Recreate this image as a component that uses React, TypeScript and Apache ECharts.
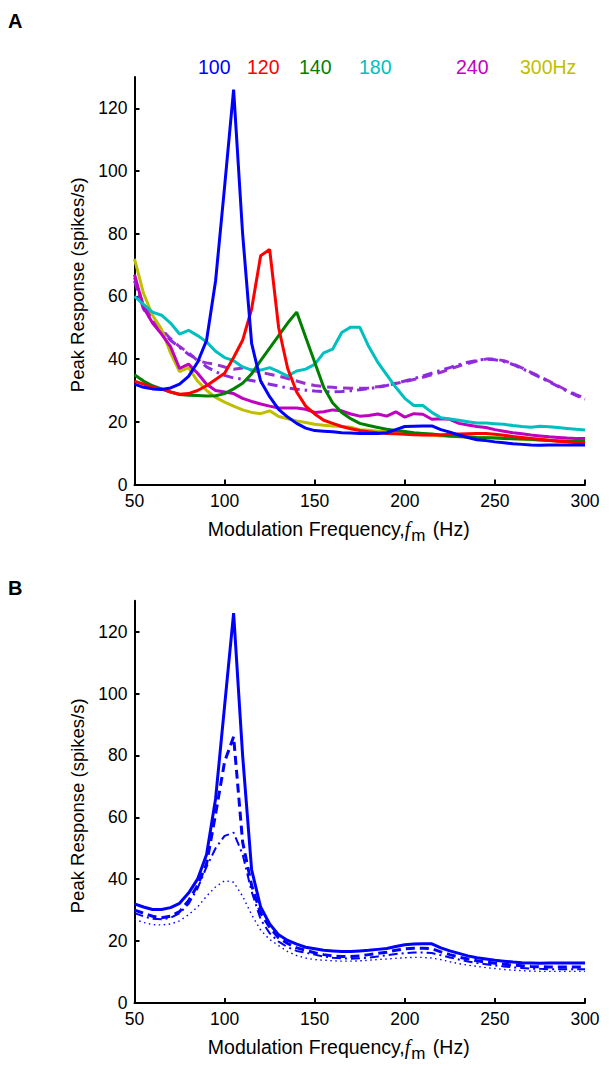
import React, { useEffect, useRef } from "react";
import * as echarts from "echarts";

const freqHz = [50, 55, 60, 65, 70, 75, 80, 85, 90, 95, 100, 105, 110, 115, 120, 125, 130, 135, 140, 145, 150, 155, 160, 165, 170, 175, 180, 185, 190, 195, 200, 205, 210, 215, 220, 225, 230, 235, 240, 245, 250, 255, 260, 265, 270, 275, 280, 285, 290, 295, 300];

// Panel A
const a100 = [32, 31, 30.5, 30.3, 30.8, 32, 34.5, 39, 46, 65, 95, 126, 80, 45, 33, 28, 24, 21.5, 19.5, 18, 17.2, 17, 16.8, 16.5, 16.4, 16.3, 16.3, 16.3, 16.5, 17.5, 18.5, 18.6, 18.7, 18.7, 17.5, 16.7, 15.8, 15, 14.3, 14, 13.6, 13.3, 13, 12.8, 12.6, 12.5, 12.6, 12.6, 12.6, 12.6, 12.6];
const a120 = [33, 32, 31, 30.5, 29.5, 28.8, 29, 30, 31.5, 33.5, 35.5, 40.5, 46, 56, 73, 75, 50, 37, 29.5, 25, 22.5, 20.5, 19.5, 18.5, 17.8, 17.2, 16.8, 16.5, 16.3, 16.2, 16, 15.9, 15.8, 15.8, 15.8, 16, 16.1, 16.2, 16.3, 16.3, 16, 15.7, 15.3, 15, 14.7, 14.4, 14.1, 13.8, 13.6, 13.4, 13.4];
const a140 = [35, 33, 31.5, 30.5, 29.5, 28.7, 28.5, 28.4, 28.2, 28.3, 29, 30.5, 32.3, 35.3, 39.5, 43.5, 47.5, 51.5, 55, 47, 39, 31, 26, 23, 21, 19.5, 18.8, 18.2, 17.6, 17.2, 16.9, 16.5, 16.3, 16.1, 15.8, 15.5, 15.3, 15.2, 15, 14.9, 14.8, 14.7, 14.6, 14.5, 14.4, 14.2, 14, 13.9, 13.8, 13.7, 13.7];
const a180 = [60, 57.5, 55, 54, 51.5, 48, 49.2, 47.5, 45.5, 42.5, 40.5, 39.5, 37.5, 36.5, 36.5, 37.3, 36, 34.6, 36.2, 36.8, 38.3, 42, 43.2, 48.5, 50.2, 50.2, 44, 39, 35, 31, 27.5, 25.2, 25.2, 23, 21.3, 20.9, 20.5, 20, 19.6, 19.6, 19.4, 19.2, 18.8, 18.5, 18.3, 18.6, 18.4, 18.2, 17.9, 17.6, 17.4];
const a240 = [67, 56.5, 51.5, 48, 44, 37, 38.4, 35.5, 32, 30, 29.5, 29, 27.5, 26.5, 25.7, 25, 24.4, 24.4, 24.4, 24, 23, 23.2, 23.8, 23.5, 22.5, 21.8, 22, 22.5, 21.8, 23.2, 21.5, 22.6, 22.4, 20.8, 21, 20.8, 19.5, 19, 18.5, 18.2, 17.5, 17, 16.5, 16.2, 15.8, 15.5, 15.2, 15, 14.8, 14.7, 14.7];
const a300 = [72, 61, 54, 49.5, 42, 36, 37.3, 33, 30, 27.8, 26.3, 25, 23.8, 23, 22.6, 23.5, 21.7, 21, 20.3, 19.8, 19.2, 18.9, 18.7, 18.5, 18.3, 17.5, 17.3, 17, 16.8, 16.6, 16.3, 16, 15.9, 15.8, 15.5, 15.3, 15.2, 15, 15, 15, 14.9, 14.8, 14.6, 14.5, 14.3, 14.2, 14.1, 14, 13.9, 13.8, 13.7];
const aDashed = [66, 57, 53.5, 49.5, 46.5, 44, 42, 39.5, 38.8, 38.3, 37.5, 36.8, 37.2, 36.5, 35.8, 35.2, 34.6, 33.8, 33, 32.2, 31.6, 31.2, 31, 30.8, 30.7, 30.7, 30.8, 31.2, 31.6, 32.2, 32.8, 33.5, 34.2, 35, 35.8, 36.8, 37.8, 38.6, 39.4, 40, 40, 39.5, 38.5, 37.2, 35.8, 34.4, 33, 31.5, 30, 28.7, 27.5];
const aDashDot = [65, 56, 52, 49, 46, 43.8, 41.5, 40, 37.5, 36, 34.8, 34, 33.6, 33.2, 32.6, 32, 31.4, 30.8, 30.4, 30.1, 29.8, 29.6, 29.6, 29.7, 29.9, 30.2, 30.6, 31, 31.6, 32.3, 33, 33.8, 34.6, 35.5, 36.4, 37.3, 38.2, 39, 39.6, 40, 39.8, 39.2, 38.3, 37, 35.6, 34.2, 32.8, 31.3, 29.8, 28.4, 27.2];

// Panel B
const bSolid = [32, 31, 30.2, 30.2, 30.8, 32.2, 35.5, 40, 48, 66, 96, 126, 80, 43, 31, 25.5, 22, 20.2, 19, 18, 17.5, 17, 16.8, 16.6, 16.6, 16.8, 17, 17.3, 17.6, 18.2, 18.8, 19, 19.1, 19.1, 17.8, 16.8, 16, 15.2, 14.6, 14.2, 13.8, 13.5, 13.2, 13, 12.9, 12.8, 12.9, 12.9, 12.9, 12.9, 12.9];
const bDashed = [30, 29, 28, 27.5, 28, 29.5, 33, 38, 45, 61, 78, 86, 52, 38, 29, 24.5, 21, 19.2, 17.8, 17, 16.2, 15.6, 15.2, 15, 15, 15.2, 15.6, 16, 16.4, 17, 17.5, 17.7, 17.7, 17.5, 16.5, 15.6, 14.8, 14.2, 13.6, 13.2, 12.8, 12.5, 12.2, 12, 11.8, 11.7, 11.6, 11.6, 11.6, 11.6, 11.6];
const bDashDot = [29, 28, 27.2, 27, 27.5, 29, 32, 37, 44, 50, 54, 55, 48, 36, 27, 22.5, 19.8, 18, 16.8, 16.2, 15.6, 15, 14.6, 14.4, 14.3, 14.4, 14.6, 15, 15.4, 15.8, 16.1, 16.3, 16.3, 16.1, 15.4, 14.7, 14, 13.4, 12.9, 12.5, 12.1, 11.8, 11.5, 11.3, 11.1, 11, 10.9, 10.9, 10.9, 10.9, 10.9];
const bDotted = [27, 26, 25.3, 25.2, 25.5, 26.5, 28.5, 31, 34.5, 37.5, 39.5, 39, 34.5, 28.5, 23.5, 20.5, 18.5, 16.6, 15.3, 14.5, 14, 13.8, 13.6, 13.5, 13.5, 13.6, 13.8, 14, 14.2, 14.4, 14.6, 14.7, 14.7, 14.5, 14, 13.3, 12.7, 12.2, 11.8, 11.4, 11.1, 10.8, 10.6, 10.4, 10.3, 10.2, 10.2, 10.2, 10.2, 10.2, 10.2];

const yTicks = [0, 20, 40, 60, 80, 100, 120];
const legendLabels = ["100", "120", "140", "180", "240", "300Hz"];
const legendColors = ["#0000ff", "#ff0000", "#008000", "#00bfbf", "#bf00bf", "#bfbf00"];
const legendX = [198, 247, 299, 359, 456, 520];

const FONT = "'Liberation Sans', Arial, Helvetica, sans-serif";

const pairs = (vals: number[]) => vals.map((v, i) => [freqHz[i], v]);

export default function App() {
  const ref = useRef<HTMLDivElement>(null);
  useEffect(() => {
    if (!ref.current) return;
    const chart = echarts.init(ref.current, undefined, { renderer: "svg" });

    const axisLine = { show: true, onZero: false, lineStyle: { color: "#000", width: 2 } };
    const axisTick = { show: true, inside: true, length: 5, lineStyle: { color: "#000", width: 2 } };

    const xAxis = (gi: number) => ({
      type: "value",
      gridIndex: gi,
      min: 50,
      max: 300,
      interval: 50,
      axisLine,
      axisTick,
      splitLine: { show: false },
      axisLabel: { color: "#000", fontSize: 17.5, fontFamily: FONT, margin: 7 },
      name: "{a|Modulation Frequency,}{f|f}{m|m}{a| (Hz)}",
      nameLocation: "middle",
      nameGap: 30,
      nameTextStyle: {
        padding: [0, 42, 0, 0],
        rich: {
          a: { fontSize: 19.5, fontFamily: FONT, color: "#000" },
          f: { fontSize: 20, fontFamily: "'Liberation Serif', serif", fontStyle: "italic", color: "#000" },
          m: { fontSize: 17, fontFamily: FONT, color: "#000", padding: [12, 2, 0, 1] },
        },
      },
    });
    const yAxis = (gi: number) => ({
      type: "value",
      gridIndex: gi,
      min: 0,
      max: 130,
      axisLine,
      axisTick: { ...axisTick, customValues: yTicks },
      splitLine: { show: false },
      axisLabel: { color: "#000", fontSize: 17.5, fontFamily: FONT, margin: 7, customValues: yTicks },
      name: "Peak Response (spikes/s)",
      nameLocation: "middle",
      nameGap: 46,
      nameTextStyle: { fontSize: 18.5, fontFamily: FONT, color: "#000", padding: [0, 8, 0, 0] },
    });

    const line = (name: string, vals: number[], color: string, gi: number, width: number, type: any = "solid") => ({
      name,
      type: "line",
      xAxisIndex: gi,
      yAxisIndex: gi,
      data: pairs(vals),
      showSymbol: false,
      symbol: "none",
      lineStyle: { color, width, type },
      itemStyle: { color },
      z: 3,
    });

    chart.setOption({
      animation: false,
      backgroundColor: "#fff",
      grid: [
        { left: 134.5, top: 77, width: 450.5, height: 407.5 },
        { left: 134.5, top: 600.7, width: 450.5, height: 402.2 },
      ],
      xAxis: [xAxis(0), xAxis(1)],
      yAxis: [yAxis(0), yAxis(1)],
      series: [
        line("240 dashed", aDashed, "#9b30d0", 0, 3, [10, 6]),
        line("240 dash-dot", aDashDot, "#8a2be2", 0, 3, [10, 5, 2.5, 5]),
        line("300Hz", a300, "#bfbf00", 0, 3),
        line("240", a240, "#bf00bf", 0, 3),
        line("180", a180, "#00bfbf", 0, 3),
        line("140", a140, "#008000", 0, 3),
        line("120", a120, "#ff0000", 0, 3),
        line("100", a100, "#0000ff", 0, 3),
        line("B solid", bSolid, "#0000ff", 1, 3),
        line("B dashed", bDashed, "#0000ff", 1, 3, [9, 5]),
        line("B dash-dot", bDashDot, "#0000ff", 1, 2, [9, 4, 2, 4]),
        line("B dotted", bDotted, "#0000ff", 1, 1.4, [1.5, 3.5]),
      ],
      graphic: [
        { type: "text", left: 8, top: 11, style: { text: "A", fontSize: 20, fontWeight: "bold", fontFamily: FONT, fill: "#000" } },
        { type: "text", left: 8, top: 578, style: { text: "B", fontSize: 20, fontWeight: "bold", fontFamily: FONT, fill: "#000" } },
        ...legendLabels.map((t, i) => ({
          type: "text",
          left: legendX[i],
          top: 57,
          style: { text: t, fontSize: 19.5, fontFamily: FONT, fill: legendColors[i] },
        })),
      ],
    });
    return () => chart.dispose();
  }, []);
  return <div ref={ref} style={{ position: "fixed", left: 0, top: 0, width: 612, height: 1074, background: "#fff" }} />;
}
